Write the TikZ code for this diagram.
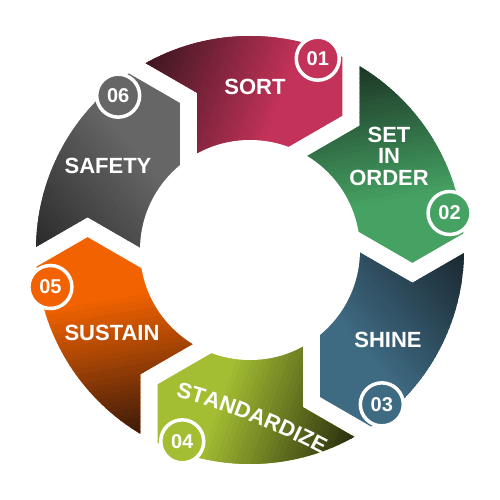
\documentclass[tikz,border=0pt]{standalone}
\usepackage{fontspec}
\setmainfont{Liberation Sans}
\usetikzlibrary{calc,decorations.text}
\definecolor{sortc}{HTML}{C33258}
\definecolor{sortd}{HTML}{3A1620}
\definecolor{setc}{HTML}{45A262}
\definecolor{setd}{HTML}{1C3526}
\definecolor{shinec}{HTML}{3E6A82}
\definecolor{shined}{HTML}{1A2830}
\definecolor{stdc}{HTML}{A3BE33}
\definecolor{stdd}{HTML}{2A2E0E}
\definecolor{susc}{HTML}{F26200}
\definecolor{susd}{HTML}{3A1A0A}
\definecolor{safc}{HTML}{666666}
\definecolor{safd}{HTML}{2A2A2A}
\newcommand\labfont{\bfseries\fontsize{22}{21.5}\selectfont}
\newcommand\numfont{\bfseries\fontsize{20}{20}\selectfont}
\tikzset{
  lab/.style={text=white, font=\labfont, inner sep=0pt, align=center},
  numc/.style={circle, minimum size=43pt, inner sep=0pt, draw=white, line width=3.5pt, text=white, font=\numfont}
}
\begin{document}
\begin{tikzpicture}[x=1pt,y=1pt]
\useasboundingbox (-250,-250) rectangle (250,250);
\fill[white] (-250,-250) rectangle (250,250);
\foreach \j/\col/\dk in {1/sortc/sortd,2/setc/setd,3/shinec/shined,4/stdc/stdd,5/susc/susd,6/safc/safd}{
  \pgfmathsetmacro{\myBetT}{112-60*(\j-1)}
  \pgfmathsetmacro{\myTauT}{30-60*(\j-1)}
  \pgfmathsetmacro{\myBetH}{\myBetT-60}
  \pgfmathsetmacro{\myTauH}{\myTauT-60}
  \pgfmathsetmacro{\myRot}{\myBetT-30-90-12}
  \coordinate (Mt) at ($(\myBetT:164)+(\myTauT:10)$);
  \coordinate (Mh) at ($(\myBetH:164)-(\myTauH:10)$);
  \begin{scope}
    \clip ($(Mt)+(\myTauT-120:120)$) -- (Mt) -- ($(Mt)+(\myTauT+120:120)$)
      -- ($(Mh)+(\myTauH+120:120)$) -- (Mh) -- ($(Mh)+(\myTauH-120:120)$) -- cycle;
    \clip (0,0) circle (214);
    \fill[\col] (0,0) circle (214);
    \begin{scope}[rotate=\myRot]
      \fill[\dk] (-400,-300) rectangle (-165,300);
      \foreach \i in {0,...,29}{
        \pgfmathtruncatemacro{\pc}{round(100*\i/29)}
        \fill[\col!\pc!\dk] ({-165+\i*4.833},-300) rectangle ({-165+(\i+1)*4.833+0.8},300);
      }
    \end{scope}
  \end{scope}
}
\fill[white] (0,0) circle (110);

\node[lab] (sort) at (5,163) {SORT};
\node[lab] (set) at (139,94) {SET\\IN\\ORDER};
\node[lab] (shine) at (138,-90) {SHINE};
\node[lab] (sustain) at (-138,-83) {SUSTAIN};
\node[lab] (safety) at (-142,84) {SAFETY};
\path[decorate, decoration={text along path, text align=center, text color=white,
  text={|\labfont|STANDARDIZE}}] (-101.4,-140) arc[start angle=77, end angle=60, radius=720];

\node[numc, fill=sortc] (n1) at (70.5:203) {01};
\node[numc, fill=setc] (n2) at (10.5:203) {02};
\node[numc, fill=shinec] (n3) at (-49.5:203) {03};
\node[numc, fill=stdc] (n4) at (-109.5:203) {04};
\node[numc, fill=susc] (n5) at (-169.5:203) {05};
\node[numc, fill=safc] (n6) at (130.5:203) {06};
\end{tikzpicture}
\end{document}
